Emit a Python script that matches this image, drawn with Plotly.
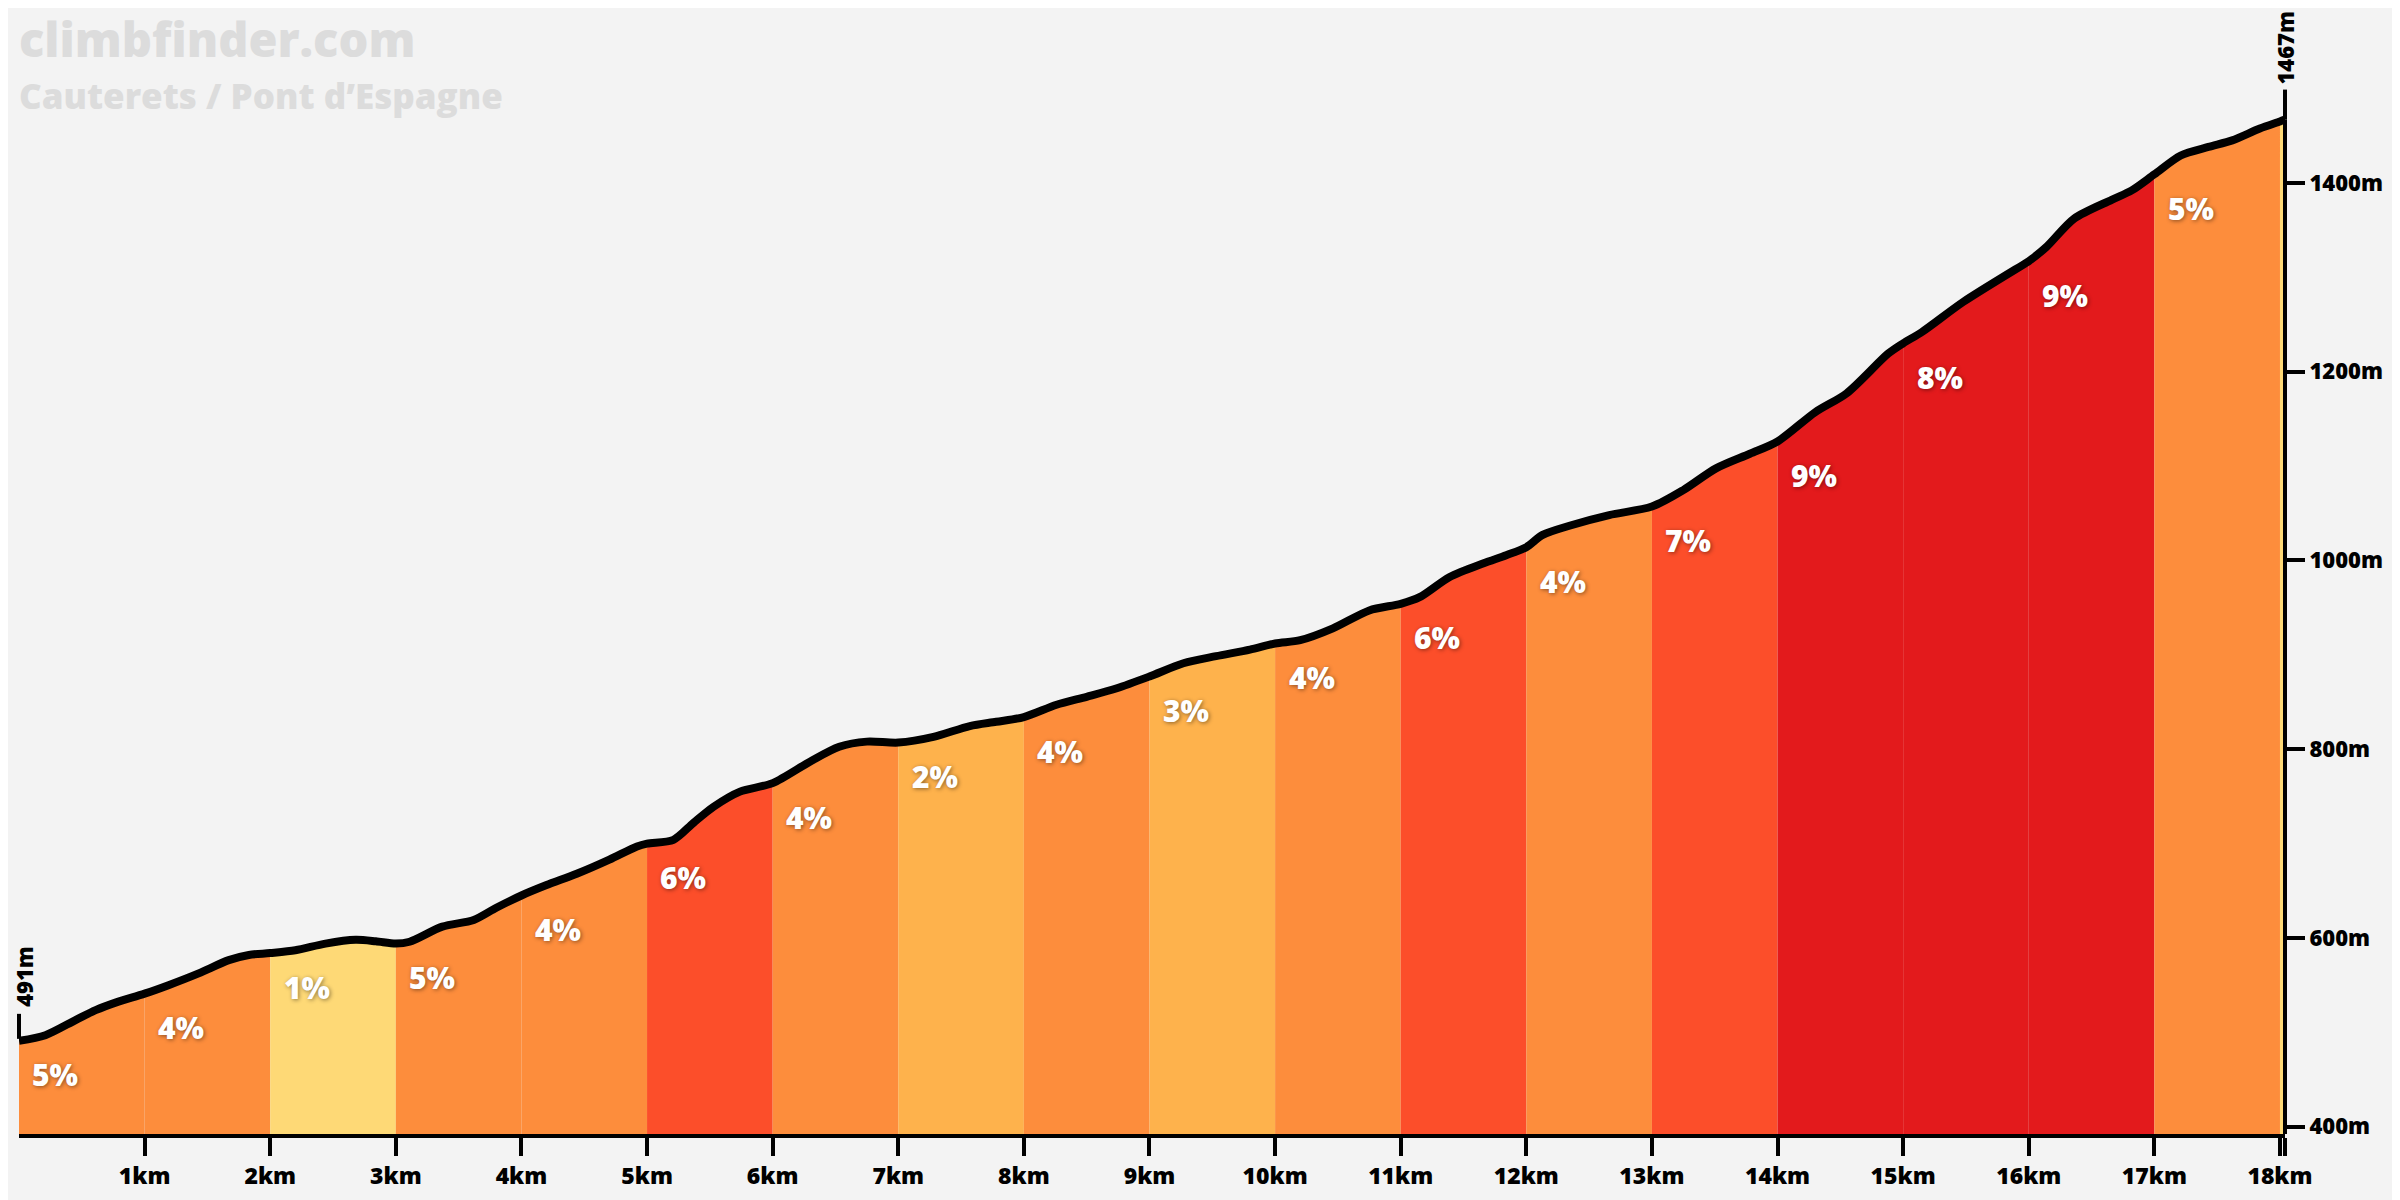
import numpy as np
import plotly.graph_objects as go

# ---------------- data ----------------
dist_km = [0.0, 0.21, 0.45, 0.61, 0.78, 1.0, 1.19, 1.43, 1.67, 1.83, 2.0, 2.2, 2.44, 2.68,
           2.84, 3.0, 3.11, 3.37, 3.62, 3.8, 4.0, 4.2, 4.44, 4.7, 4.92, 5.0, 5.21, 5.37,
           5.53, 5.74, 6.0, 6.3, 6.53, 6.75, 7.0, 7.28, 7.57, 7.78, 8.0, 8.26, 8.5, 8.74,
           9.0, 9.27, 9.53, 9.8, 10.0, 10.2, 10.46, 10.75, 11.0, 11.15, 11.39, 11.66,
           11.84, 12.0, 12.13, 12.35, 12.66, 13.0, 13.25, 13.51, 13.78, 14.0, 14.3, 14.55,
           14.88, 15.0, 15.15, 15.48, 15.97, 16.0, 16.14, 16.36, 16.66, 16.82, 17.0, 17.21,
           17.43, 17.62, 17.84, 18.0, 18.04]
elev_m = [491, 497, 513, 523.5, 532, 541, 550, 562.5, 576.5, 582, 584, 587, 594, 598,
          596.5, 594, 596, 612, 619, 632, 645, 656, 668, 683, 697, 700, 704, 722,
          739, 755, 764, 787, 802.5, 808, 807, 813, 824.5, 829, 834, 847, 855.5, 864.5,
          877, 891, 898.5, 905.5, 912, 915.5, 928, 947, 954, 961, 982.5, 997,
          1005.5, 1014, 1027, 1037, 1048, 1057, 1074.5, 1097.5, 1113, 1126, 1157, 1177,
          1219, 1230, 1242, 1274, 1314.5, 1317, 1332, 1362, 1382, 1392, 1409, 1429,
          1438, 1445, 1457.5, 1465, 1467]

seg_start_km = [0, 1, 2, 3, 4, 5, 6, 7, 8, 9, 10, 11, 12, 13, 14, 15, 16, 17, 18]
seg_end_km = [1, 2, 3, 4, 5, 6, 7, 8, 9, 10, 11, 12, 13, 14, 15, 16, 17, 18, 18.04]
seg_grade = [5, 4, 1, 5, 4, 6, 4, 2, 4, 3, 4, 6, 4, 7, 9, 8, 9, 5, 1]
seg_label = ["5%", "4%", "1%", "5%", "4%", "6%", "4%", "2%", "4%", "3%", "4%", "6%",
             "4%", "7%", "9%", "8%", "9%", "5%", ""]

x_tick_km = [1, 2, 3, 4, 5, 6, 7, 8, 9, 10, 11, 12, 13, 14, 15, 16, 17, 18]
x_tick_text = ["1km", "2km", "3km", "4km", "5km", "6km", "7km", "8km", "9km", "10km",
               "11km", "12km", "13km", "14km", "15km", "16km", "17km", "18km"]
y_tick_m = [400, 600, 800, 1000, 1200, 1400]
y_tick_text = ["400m", "600m", "800m", "1000m", "1200m", "1400m"]

start_elev = 491
summit_elev = 1467
total_km = 18.04
site_name = "climbfinder.com"
climb_name = "Cauterets / Pont d\u2019Espagne"

# ---------------- styling ----------------
FONT = "Open Sans"
BG = "#f3f3f3"
Y_MIN, Y_MAX = 392.3, 1510


def grade_color(g):
    if g <= 1:
        return "#fed976"
    if g <= 3:
        return "#feb24c"
    if g <= 5:
        return "#fd8d3c"
    if g <= 7:
        return "#fc4e2a"
    return "#e31a1c"


d = np.array(dist_km, dtype=float)
e = np.array(elev_m, dtype=float)

fig = go.Figure()

# coloured gradient segments
for s, t, g in zip(seg_start_km, seg_end_km, seg_grade):
    mask = (d >= s - 1e-9) & (d <= t + 1e-9)
    fig.add_trace(go.Scatter(
        x=d[mask], y=e[mask], mode="lines", fill="tozeroy",
        fillcolor=grade_color(g),
        line=dict(width=0.5, shape="spline", smoothing=0.8, color=grade_color(g)),
        hoverinfo="skip", showlegend=False))

# profile line
fig.add_trace(go.Scatter(
    x=d, y=e, mode="lines",
    line=dict(width=8, color="black", shape="spline", smoothing=0.8),
    hoverinfo="skip", showlegend=False))

annotations = []
for s, lab in zip(seg_start_km, seg_label):
    if not lab:
        continue
    annotations.append(dict(
        x=s + 0.29, y=float(np.interp(s, d, e)), xref="x", yref="y",
        text=lab, showarrow=False, xanchor="center", yanchor="middle", yshift=-34,
        font=dict(family=FONT, size=30, color="white", weight=800,
                  shadow="1px 1px 4px rgba(0,0,0,0.45)")))

# start / summit labels
annotations.append(dict(
    x=0, y=start_elev, xref="paper", yref="y", text=f"{start_elev}m", textangle=-90,
    showarrow=False, xanchor="center", yanchor="middle", yshift=64, xshift=5,
    borderpad=0, font=dict(family=FONT, size=22, color="black", weight=800)))
annotations.append(dict(
    x=1, y=summit_elev, xref="paper", yref="y", text=f"{summit_elev}m", textangle=-90,
    showarrow=False, xanchor="center", yanchor="middle", yshift=72, xshift=0,
    borderpad=0, font=dict(family=FONT, size=22, color="black", weight=800)))

# watermark titles
annotations.append(dict(
    x=0, y=1, xref="paper", yref="paper", text=site_name, showarrow=False,
    xanchor="left", yanchor="middle", yshift=40, xshift=-1, borderpad=0,
    font=dict(family=FONT, size=47, color="#dcdcdc", weight=800)))
annotations.append(dict(
    x=0, y=1, xref="paper", yref="paper", text=climb_name, showarrow=False,
    xanchor="left", yanchor="middle", yshift=-16, xshift=-1, borderpad=0,
    font=dict(family=FONT, size=35, color="#dcdcdc", weight=800)))

shapes = [
    # right axis line up to the summit
    dict(type="line", xref="paper", yref="y", x0=1, x1=1, y0=Y_MIN, y1=summit_elev,
         line=dict(color="black", width=4)),
    # summit tick
    dict(type="line", xref="paper", yref="y", ysizemode="pixel", yanchor=summit_elev,
         x0=1, x1=1, y0=0, y1=30, line=dict(color="black", width=4)),
    # start tick
    dict(type="line", xref="paper", yref="y", ysizemode="pixel", yanchor=start_elev,
         x0=0, x1=0, y0=2, y1=27, line=dict(color="black", width=4)),
]

fig.update_layout(
    width=2400, height=1200,
    margin=dict(l=11, r=123, t=71, b=74),
    paper_bgcolor=BG, plot_bgcolor=BG,
    showlegend=False,
    annotations=annotations,
    shapes=shapes,
    xaxis=dict(range=[0, total_km], tickmode="array",
               tickvals=x_tick_km + [total_km], ticktext=x_tick_text + [""],
               ticks="outside", ticklen=18, tickwidth=4, tickcolor="black",
               showline=True, linewidth=4, linecolor="black",
               showgrid=False, zeroline=False, fixedrange=True,
               tickfont=dict(family=FONT, size=23, color="black", weight=800)),
    yaxis=dict(range=[Y_MIN, Y_MAX], side="right", tickmode="array",
               tickvals=y_tick_m, ticktext=y_tick_text,
               ticks="outside", ticklen=19, tickwidth=4, tickcolor="black",
               showline=False, showgrid=False, zeroline=False, fixedrange=True,
               tickfont=dict(family=FONT, size=22, color="black", weight=800)),
)

fig.write_html("out.html")
